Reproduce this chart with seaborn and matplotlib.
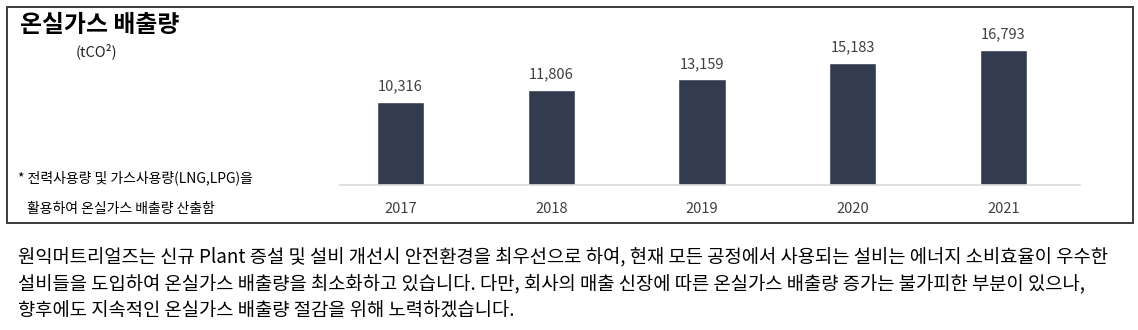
import matplotlib
matplotlib.use("Agg")
import matplotlib.pyplot as plt
import matplotlib.patches as mpatches
import seaborn as sns
import pandas as pd

years = ["2017", "2018", "2019", "2020", "2021"]
emissions = [10316, 11806, 13159, 15183, 16793]

title = "온실가스 배출량"
unit = "(tCO²)"
note_lines = ["* 전력사용량 및 가스사용량(LNG,LPG)을", "활용하여 온실가스 배출량 산출함"]
paragraph = [
    "원익머트리얼즈는 신규 Plant 증설 및 설비 개선시 안전환경을 최우선으로 하여, 현재 모든 공정에서 사용되는 설비는 에너지 소비효율이 우수한",
    "설비들을 도입하여 온실가스 배출량을 최소화하고 있습니다. 다만, 회사의 매출 신장에 따른 온실가스 배출량 증가는 불가피한 부분이 있으나,",
    "향후에도 지속적인 온실가스 배출량 절감을 위해 노력하겠습니다.",
]

sns.set_theme(style="white")
plt.rcParams["font.family"] = ["Noto Sans CJK KR", "DejaVu Sans"]

W, H = 1138, 330
fig = plt.figure(figsize=(W / 100, H / 100), dpi=100)
fig.patch.set_facecolor("white")

# framed panel around the chart
fig.patches.append(mpatches.Rectangle((7 / W, 1 - 223 / H), (1133 - 7) / W, (223 - 7) / H,
                                      transform=fig.transFigure, fill=False,
                                      edgecolor="#3a3a3a", linewidth=1.4))

ax = fig.add_axes([340 / W, 1 - 185 / H, (1080 - 340) / W, (185 - 35) / H])
df = pd.DataFrame({"year": years, "value": emissions})
sns.barplot(data=df, x="year", y="value", color="#323c4e", width=0.312,
            saturation=1, ax=ax)
ax.set_xlim(-0.401, 4.507)
ax.set_ylim(0, 18657)
for s in ["top", "right", "left"]:
    ax.spines[s].set_visible(False)
ax.spines["bottom"].set_color("#d9d9d9")
ax.spines["bottom"].set_linewidth(1.2)
ax.set_yticks([])
ax.set_xlabel("")
ax.set_ylabel("")
ax.tick_params(axis="x", length=0, pad=12, labelsize=10.5, labelcolor="#404040")

for i, v in enumerate(emissions):
    ax.annotate(f"{v:,}", (i, v), xytext=(0, 6), textcoords="offset points",
                ha="center", va="bottom", fontsize=10.5, color="#404040")

fig.text(20 / W, 1 - 25 / H, title, fontsize=17.2, fontweight="bold", color="black",
         va="center", ha="left")
fig.text(76 / W, 1 - 51 / H, unit, fontsize=10.5, color="#222222", va="center", ha="left")
fig.text(18 / W, 1 - 178 / H, note_lines[0], fontsize=10, style="italic",
         color="black", va="center", ha="left")
fig.text(27 / W, 1 - 209 / H, note_lines[1], fontsize=10, style="italic",
         color="black", va="center", ha="left")

for k, line in enumerate(paragraph):
    fig.text(18 / W, 1 - (257 + 27 * k) / H, line, fontsize=13.5, color="black",
             va="center", ha="left")

fig.savefig("out.png", dpi=100)
